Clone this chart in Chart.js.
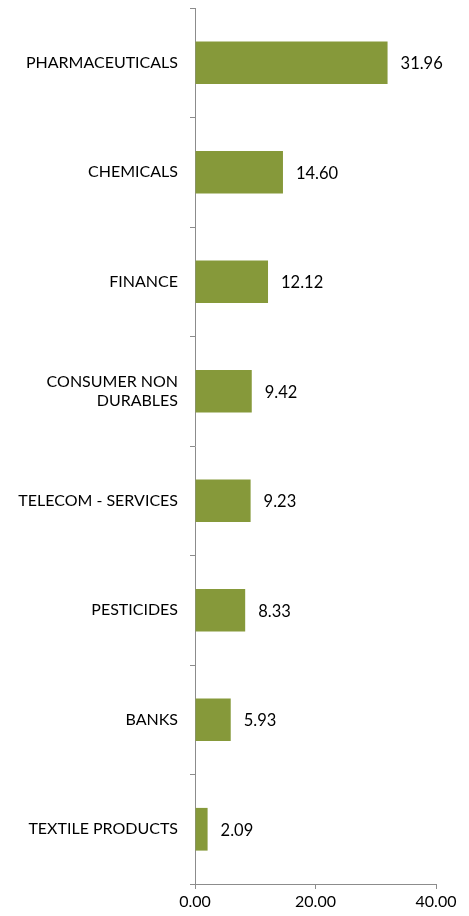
<!DOCTYPE html>
<html>
<head>
<meta charset="utf-8">
<script src="https://cdn.jsdelivr.net/npm/chart.js@4/dist/chart.umd.min.js"></script>
<style>
  html, body { margin: 0; padding: 0; background: #fff; }
  #wrap { width: 469px; height: 916px; position: relative; }
</style>
</head>
<body>
<div id="wrap"><canvas id="c"></canvas></div>
<script>
// sector weights (%), top to bottom as drawn
const sectors = ["PHARMACEUTICALS", "CHEMICALS", "FINANCE", ["CONSUMER NON", "DURABLES"],
  "TELECOM - SERVICES", "PESTICIDES", "BANKS", "TEXTILE PRODUCTS"];
const weights = [31.96, 14.60, 12.12, 9.42, 9.23, 8.33, 5.93, 2.09];
const xTicks = [0, 20, 40];

const FONT = "Lato, 'Open Sans', sans-serif";
const BAR = "#86993a";
const AXIS = "#8c8c8c";

// value labels just past the bar end (no datalabels plugin offline)
const valueLabels = {
  id: "valueLabels",
  afterDatasetsDraw(chart) {
    const ctx = chart.ctx;
    ctx.save();
    ctx.font = "16.5px " + FONT;
    ctx.fillStyle = "#000";
    ctx.textBaseline = "middle";
    ctx.textAlign = "left";
    chart.getDatasetMeta(0).data.forEach((bar, i) => {
      ctx.fillText(weights[i].toFixed(2), bar.x + 13, bar.y + 1);
    });
    ctx.restore();
  },
};

new Chart(document.getElementById("c"), {
  type: "bar",
  data: {
    labels: sectors,
    datasets: [{ data: weights, backgroundColor: BAR, barPercentage: 0.39, categoryPercentage: 1 }],
  },
  options: {
    indexAxis: "y", responsive: true, maintainAspectRatio: false, animation: false,
    layout: { padding: { top: 8, right: 33, bottom: 0, left: 0 } },
    plugins: { legend: { display: false }, tooltip: { enabled: false } },
    scales: {
      x: {
        min: 0, max: 40,
        afterBuildTicks: s => { s.ticks = xTicks.map(v => ({ value: v })); },
        afterFit: s => { s.height = 32; s.paddingLeft = 0; s.paddingRight = 0; },
        border: { color: AXIS, width: 1 },
        grid: { drawOnChartArea: false, tickLength: 5, color: AXIS },
        ticks: { color: "#000", font: { family: FONT, size: 16 }, padding: 3,
          callback: v => Number(v).toFixed(2) },
      },
      y: {
        afterFit: s => { s.width = 195; s.paddingTop = 0; s.paddingBottom = 0; },
        border: { color: AXIS, width: 1 },
        grid: { drawOnChartArea: false, offset: true, tickLength: 5, color: AXIS },
        ticks: { color: "#000", font: { family: FONT, size: 16 }, padding: 12 },
      },
    },
  },
  plugins: [valueLabels],
});
</script>
</body>
</html>
